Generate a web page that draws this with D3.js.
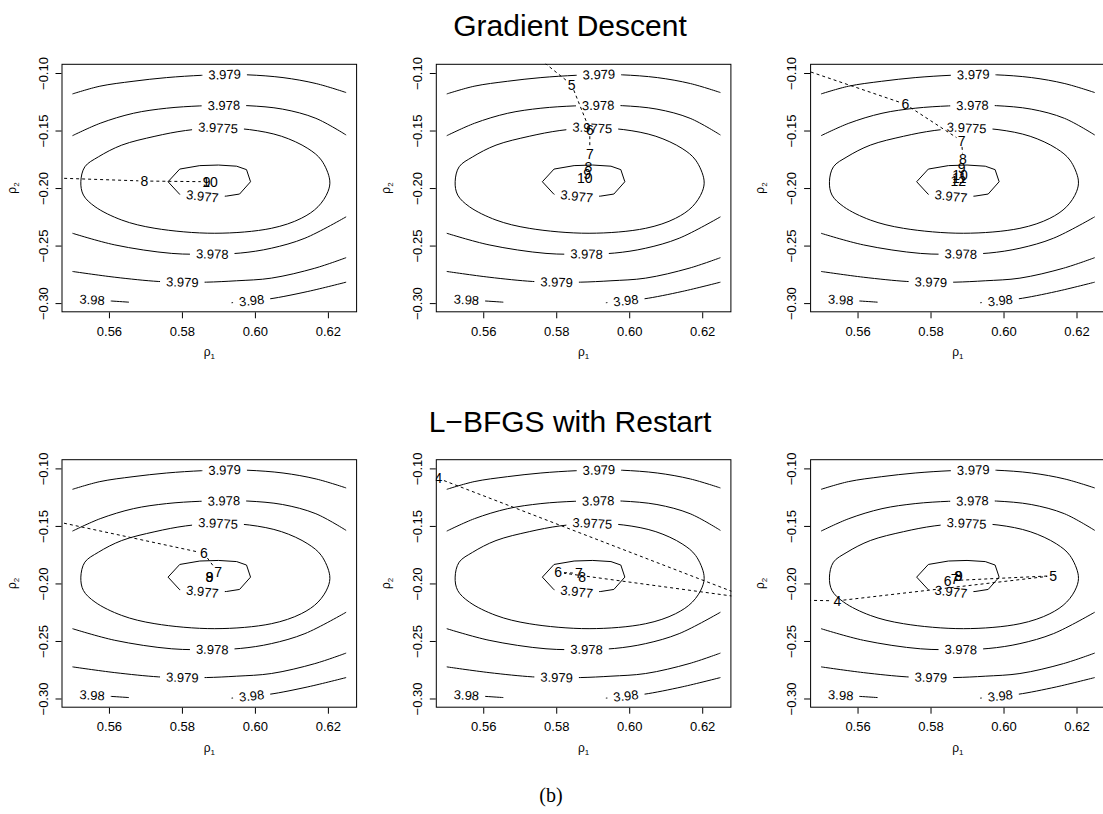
<!DOCTYPE html>
<html><head><meta charset="utf-8">
<script src="https://cdn.jsdelivr.net/npm/d3@7"></script>
<style>body{margin:0;background:#fff} svg{display:block}</style>
</head><body><svg id="chart" width="1103" height="814"></svg>
<script>
// ---------------- data ----------------
const xTicks = [0.56, 0.58, 0.60, 0.62];
const yTicks = [-0.10, -0.15, -0.20, -0.25, -0.30];
const xDomain = [0.547, 0.628];
const yDomain = [-0.308, -0.092];
const rowTitles = ["Gradient Descent", "L\u2212BFGS with Restart"];
const caption = "(b)";

// contour lines (rho1, rho2)
const c3977 = [[0.5762,-0.1945],[0.5794,-0.1835],[0.5849,-0.1805],[0.5900,-0.1800],[0.5950,-0.1810],[0.5977,-0.1840],[0.5988,-0.1945],[0.5958,-0.2052],[0.5922,-0.2070],[0.5860,-0.2078],[0.5794,-0.2055]];
const c39775 = [[0.5523,-0.1945],[0.5534,-0.1815],[0.5571,-0.1729],[0.5635,-0.1627],[0.5726,-0.1550],[0.5810,-0.1500],[0.5895,-0.1478],[0.5985,-0.1492],[0.6073,-0.1550],[0.6145,-0.1656],[0.6182,-0.1757],[0.6205,-0.1931],[0.6200,-0.2032],[0.6173,-0.2162],[0.6127,-0.2263],[0.6045,-0.2350],[0.5890,-0.2393],[0.5726,-0.2350],[0.5635,-0.2278],[0.5562,-0.2162],[0.5530,-0.2061]];
const c3978top = [[0.55,-0.1545],[0.5576,-0.1437],[0.5667,-0.1350],[0.5758,-0.1306],[0.5849,-0.1286],[0.5915,-0.1282],[0.5981,-0.1284],[0.6076,-0.1314],[0.6167,-0.1394],[0.625,-0.1539]];
const c3978bot = [[0.55,-0.2393],[0.5616,-0.2494],[0.5772,-0.2568],[0.5883,-0.2574],[0.5960,-0.2565],[0.6045,-0.2523],[0.6137,-0.2436],[0.625,-0.2250]];
const c3979top = [[0.55,-0.1182],[0.5575,-0.1115],[0.5666,-0.1072],[0.5758,-0.1040],[0.5854,-0.1020],[0.5917,-0.1014],[0.5981,-0.1016],[0.6077,-0.1040],[0.6168,-0.1092],[0.625,-0.1170]];
const c3979bot = [[0.55,-0.2725],[0.5616,-0.2775],[0.5735,-0.2812],[0.5801,-0.2818],[0.5867,-0.2818],[0.5950,-0.2806],[0.6045,-0.2783],[0.6164,-0.2697],[0.625,-0.2605]];
const c398left = [[0.5507,-0.2963],[0.5554,-0.2972],[0.5607,-0.2982],[0.5655,-0.2992]];
const c398right = [[0.5936,-0.2997],[0.5991,-0.2978],[0.6041,-0.2963],[0.6145,-0.2899],[0.625,-0.2818]];

const contourLines  = [c3977, c39775, c3978top, c3978bot, c3979top, c3979bot, c398left, c398right];
const contourLabels = ["3.977","3.9775","3.978","3.978","3.979","3.979","3.98","3.98"];
const contourClosed = [true, true, false, false, false, false, false, false];
const contourLabelX = [0.5856, 0.5899, 0.5915, 0.5883, 0.5917, 0.5801, 0.5554, 0.5991];
const contourLabelY = [-0.2072, -0.1478, -0.1282, -0.2574, -0.1014, -0.2818, -0.2972, -0.2978];

// optimiser iterates per panel (iteration number, rho1, rho2)
const panelIters = [
  [7, 8, 9, 10],
  [4, 5, 6, 7, 8, 9, 10],
  [5, 6, 7, 8, 9, 10, 11, 12],
  [5, 6, 7, 8, 9],
  [4, 5, 6, 7, 8],
  [3, 4, 5, 6, 7, 8, 9]
];
const panelRho1 = [
  [0.5165, 0.5697, 0.5868, 0.5877],
  [0.5705, 0.5842, 0.5892, 0.5892, 0.5888, 0.5885, 0.5878],
  [0.5192, 0.5731, 0.5885, 0.5889, 0.5885, 0.5881, 0.5879, 0.5876],
  [0.5300, 0.5860, 0.5899, 0.5875, 0.5876],
  [0.5477, 0.6332, 0.5805, 0.5862, 0.5871],
  [0.5300, 0.5545, 0.6136, 0.5847, 0.5866, 0.5876, 0.5878]
];
const panelRho2 = [
  [-0.1882, -0.1939, -0.1945, -0.1945],
  [-0.0751, -0.1101, -0.1497, -0.1705, -0.1815, -0.1880, -0.1916],
  [-0.0689, -0.1271, -0.1590, -0.1751, -0.1829, -0.1890, -0.1916, -0.1942],
  [-0.1356, -0.1737, -0.1904, -0.1942, -0.1942],
  [-0.1087, -0.2131, -0.1904, -0.1912, -0.1942],
  [-0.2138, -0.2151, -0.1933, -0.1977, -0.1965, -0.1933, -0.1936]
];

// ---------------- drawing ----------------
const FONT = "'Liberation Sans', Arial, Helvetica, sans-serif";
const svg = d3.select("#chart");
const colLeft = [61.5, 435.8, 810.1], rowTop = [63.8, 459.2];
const pw = 295.6, ph = 248.5;
const x = d3.scaleLinear().domain(xDomain).range([0, pw]);
const y = d3.scaleLinear().domain(yDomain).range([ph, 0]);

svg.append("rect").attr("width", 1103).attr("height", 814).attr("fill", "#fff");

// titles
rowTitles.forEach((t, r) => {
  svg.append("text").attr("x", 570).attr("y", r === 0 ? 36 : 432)
    .attr("text-anchor", "middle").attr("font-family", FONT).attr("font-size", 30)
    .attr("fill", "#000").text(t);
});
svg.append("text").attr("x", 551).attr("y", 802).attr("text-anchor", "middle")
  .attr("font-family", "'Liberation Serif', 'DejaVu Serif', serif").attr("font-size", 20).text(caption);

const defs = svg.append("defs");
defs.append("clipPath").attr("id", "plotclip").append("rect")
  .attr("x", 0).attr("y", 0).attr("width", pw).attr("height", ph);

function segAngle(pts, closed, lx, ly) {
  let best = Infinity, ang = 0;
  const n = pts.length, m = closed ? n : n - 1;
  for (let i = 0; i < m; i++) {
    const a = pts[i], b = pts[(i + 1) % n];
    const ax = x(a[0]), ay = y(a[1]), bx = x(b[0]), by = y(b[1]);
    const dx = bx - ax, dy = by - ay;
    let t = ((lx - ax) * dx + (ly - ay) * dy) / (dx * dx + dy * dy);
    t = Math.max(0, Math.min(1, t));
    const px = ax + t * dx, py = ay + t * dy;
    const d = Math.hypot(lx - px, ly - py);
    if (d < best) { best = d; ang = Math.atan2(dy, dx) * 180 / Math.PI; }
  }
  if (ang > 90) ang -= 180;
  if (ang < -90) ang += 180;
  return ang;
}

for (let p = 0; p < 6; p++) {
  const r = Math.floor(p / 3), c = p % 3;
  const g = svg.append("g").attr("transform", `translate(${colLeft[c]},${rowTop[r]})`);

  // contour lines
  const cg = g.append("g").attr("clip-path", "url(#plotclip)");
  contourLines.forEach((pts, i) => {
    const curve = i === 0 ? d3.curveLinearClosed : (contourClosed[i] ? d3.curveCatmullRomClosed.alpha(0.5) : d3.curveCatmullRom.alpha(0.5));
    const line = d3.line().x(d => x(d[0])).y(d => y(d[1])).curve(curve);
    cg.append("path").attr("d", line(pts)).attr("fill", "none")
      .attr("stroke", "#000").attr("stroke-width", 1);
  });
  // contour labels with gaps
  contourLabels.forEach((lab, i) => {
    const lx = x(contourLabelX[i]), ly = y(contourLabelY[i]);
    const ang = segAngle(contourLines[i], contourClosed[i], lx, ly);
    const lg = cg.append("g").attr("transform", `translate(${lx},${ly}) rotate(${ang})`);
    const rect = lg.append("rect").attr("fill", "#fff");
    const t = lg.append("text").attr("text-anchor", "middle").attr("dominant-baseline", "central")
      .attr("font-family", FONT).attr("font-size", 13).attr("fill", "#000").text(lab);
    const w = t.node().getComputedTextLength();
    rect.attr("x", -w / 2 - 6).attr("y", -5).attr("width", w + 12).attr("height", 10);
  });

  // optimiser path
  const pg = g.append("g").attr("clip-path", "url(#plotclip)");
  const its = panelIters[p], xs = panelRho1[p], ys = panelRho2[p];
  const gapPx = 6;
  const segLine = d3.line();
  for (let k = 0; k < its.length - 1; k++) {
    const x0 = x(xs[k]), y0 = y(ys[k]), x1 = x(xs[k + 1]), y1 = y(ys[k + 1]);
    const len = Math.hypot(x1 - x0, y1 - y0);
    if (len <= 2 * gapPx + 1) continue;
    const ux = (x1 - x0) / len, uy = (y1 - y0) / len;
    pg.append("path")
      .attr("d", segLine([[x0 + ux * gapPx, y0 + uy * gapPx], [x1 - ux * gapPx, y1 - uy * gapPx]]))
      .attr("fill", "none").attr("stroke", "#000").attr("stroke-width", 1)
      .attr("stroke-dasharray", "3,3");
  }
  its.forEach((it, k) => {
    const px = x(xs[k]), py = y(ys[k]);
    if (px < 0 || px > pw || py < 0 || py > ph) return; // outside the plot region: clipped
    pg.append("text").attr("x", px).attr("y", py)
      .attr("text-anchor", "middle").attr("dominant-baseline", "central")
      .attr("font-family", FONT).attr("font-size", 14).attr("fill", "#000").text(it);
  });

  // box
  g.append("rect").attr("x", 0.5).attr("y", 0.5).attr("width", pw - 1).attr("height", ph - 1)
    .attr("fill", "none").attr("stroke", "#000").attr("stroke-width", 1);

  // axes
  const fmt = d3.format(".2f");
  const xa = g.append("g").attr("transform", `translate(0,${ph})`)
    .call(d3.axisBottom(x).tickValues(xTicks).tickFormat(fmt).tickSize(6).tickSizeOuter(0).tickPadding(8));
  xa.select(".domain").remove();
  xa.selectAll("text").attr("font-family", FONT).attr("font-size", 13).attr("fill", "#000");
  const ya = g.append("g").call(d3.axisLeft(y).tickValues(yTicks).tickFormat(fmt).tickSize(6).tickSizeOuter(0));
  ya.select(".domain").remove();
  ya.selectAll("text").attr("x", 0).attr("dy", null)
    .attr("transform", "translate(-18.5,0) rotate(-90)")
    .attr("text-anchor", "middle").attr("dominant-baseline", "central")
    .attr("font-family", FONT).attr("font-size", 13).attr("fill", "#000");

  // axis titles
  const xt = g.append("text").attr("x", pw / 2).attr("y", ph + 44).attr("text-anchor", "middle")
    .attr("font-family", FONT).attr("font-size", 12);
  xt.append("tspan").text("\u03c1");
  xt.append("tspan").attr("font-size", 8).attr("dy", 3).text("1");
  const yt = g.append("text").attr("transform", `translate(-46,${ph / 2}) rotate(-90)`).attr("text-anchor", "middle")
    .attr("font-family", FONT).attr("font-size", 12);
  yt.append("tspan").text("\u03c1");
  yt.append("tspan").attr("font-size", 8).attr("dy", 3).text("2");
}
</script>
</body></html>
